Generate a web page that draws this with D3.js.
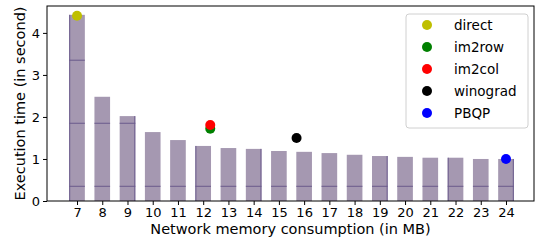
<!DOCTYPE html>
<html>
<head>
<meta charset="utf-8">
<script src="https://d3js.org/d3.v7.min.js"></script>
<style>
  body { margin: 0; background: #fff; }
  svg text { font-family: "DejaVu Sans", sans-serif; fill: #000; }
</style>
</head>
<body>
<svg id="chart" width="542" height="240"></svg>
<script>
// memory sizes (MB) and execution time of each bar
var memory = [7, 8, 9, 10, 11, 12, 13, 14, 15, 16, 17, 18, 19, 20, 21, 22, 23, 24]
var execTime = [4.43, 2.48, 2.02, 1.64, 1.45, 1.31, 1.26, 1.24, 1.19, 1.17, 1.14, 1.10, 1.07, 1.05, 1.03, 1.03, 1.00, 1.00]

// hatch-like lines seen on the bars
var hatchLevels = [0.35, 1.85, 3.35]
var edgeLines = [[7, "left"], [9, "right"], [12, "left"], [14, "right"], [19, "right"], [22, "left"], [24, "right"]]

// single-point methods
var methods = ["direct", "im2row", "im2col", "winograd", "PBQP"]
var methodMem = [7, 12.28, 12.28, 15.7, 24]
var methodTime = [4.41, 1.72, 1.81, 1.50, 1.00]
var methodColors = ["#bfbf00", "#008000", "#ff0000", "#000000", "#0000ff"]

var xTicks = memory
var yTicks = [0, 1, 2, 3, 4]

var margin = {left: 47, right: 8, top: 6, bottom: 39}
var screen = {width: 542, height: 240}
var graph = {
    width: screen.width - margin.left - margin.right,
    height: screen.height - margin.top - margin.bottom
}
var barW = 0.62

var svg = d3.select("#chart")
var target = svg.append("g")
    .attr("transform", "translate(" + margin.left + "," + margin.top + ")")

var xScale = d3.scaleLinear()
    .domain([5.81, 25.11])
    .range([0, graph.width])

var yScale = d3.scaleLinear()
    .domain([0, 4.64])
    .range([graph.height, 0])

var bars = memory.map(function(m, i) { return {mem: m, t: execTime[i]} })

// bars
target.selectAll("rect.bar")
    .data(bars)
    .enter()
    .append("rect")
      .attr("class", "bar")
      .attr("x", d => xScale(d.mem - barW / 2))
      .attr("y", d => yScale(d.t))
      .attr("width", d => xScale(d.mem + barW / 2) - xScale(d.mem - barW / 2))
      .attr("height", d => yScale(0) - yScale(d.t))
      .attr("fill", "#a598b1")

// horizontal hatch lines inside each bar
bars.forEach(function(b) {
    hatchLevels.filter(l => l < b.t).forEach(function(l) {
        target.append("line")
            .attr("x1", xScale(b.mem - barW / 2))
            .attr("x2", xScale(b.mem + barW / 2))
            .attr("y1", yScale(l))
            .attr("y2", yScale(l))
            .attr("stroke", "#6a5a8c")
            .attr("stroke-width", 1)
    })
})

// vertical hatch lines on some bar edges
edgeLines.forEach(function(e) {
    var b = bars.find(d => d.mem == e[0])
    var xv = e[1] == "left" ? xScale(b.mem - barW / 2) + 0.5 : xScale(b.mem + barW / 2) - 0.5
    target.append("line")
        .attr("x1", xv).attr("x2", xv)
        .attr("y1", yScale(b.t)).attr("y2", yScale(0))
        .attr("stroke", "#6a5a8c")
        .attr("stroke-width", 1)
})

// method points
var points = methods.map(function(m, i) {
    return {name: m, mem: methodMem[i], t: methodTime[i], color: methodColors[i]}
})
target.selectAll("circle.pt")
    .data(points)
    .enter()
    .append("circle")
      .attr("class", "pt")
      .attr("cx", d => xScale(d.mem))
      .attr("cy", d => yScale(d.t))
      .attr("r", 5)
      .attr("fill", d => d.color)

// axes
var xAxis = d3.axisBottom(xScale).tickValues(xTicks).tickSize(4).tickPadding(3)
var yAxis = d3.axisLeft(yScale).tickValues(yTicks).tickFormat(d3.format("d")).tickSize(4).tickPadding(3)

var gx = target.append("g")
    .attr("transform", "translate(0," + graph.height + ")")
    .call(xAxis)
var gy = target.append("g").call(yAxis)
;[gx, gy].forEach(function(g) {
    g.select(".domain").remove()
    g.selectAll("text").style("font-size", "13px").attr("fill", "#000")
    g.selectAll("line").attr("stroke", "#000")
})

// frame
target.append("rect")
    .attr("x", 0).attr("y", 0)
    .attr("width", graph.width).attr("height", graph.height)
    .attr("fill", "none")
    .attr("stroke", "#000")
    .attr("stroke-width", 1)

// labels
svg.append("text")
    .attr("text-anchor", "middle")
    .attr("x", margin.left + graph.width / 2)
    .attr("y", 234)
    .style("font-size", "14.5px")
    .text("Network memory consumption (in MB)")

svg.append("text")
    .attr("text-anchor", "middle")
    .attr("transform", "translate(25," + (margin.top + graph.height / 2) + ") rotate(-90)")
    .style("font-size", "14.5px")
    .text("Execution time (in second)")

// legend
var legend = svg.append("g").attr("transform", "translate(406,14)")
legend.append("rect")
    .attr("width", 122).attr("height", 114)
    .attr("rx", 3)
    .attr("fill", "#fff")
    .attr("fill-opacity", 0.8)
    .attr("stroke", "#d0d0d0")

var rows = legend.selectAll("g.row")
    .data(points)
    .enter()
    .append("g")
      .attr("class", "row")
      .attr("transform", (d, i) => "translate(0," + (11 + i * 22) + ")")
rows.append("circle")
    .attr("cx", 21).attr("cy", 0).attr("r", 5)
    .attr("fill", d => d.color)
rows.append("text")
    .attr("x", 48).attr("y", 0)
    .attr("dy", "0.35em")
    .style("font-size", "13.5px")
    .text(d => d.name)
</script>
</body>
</html>
